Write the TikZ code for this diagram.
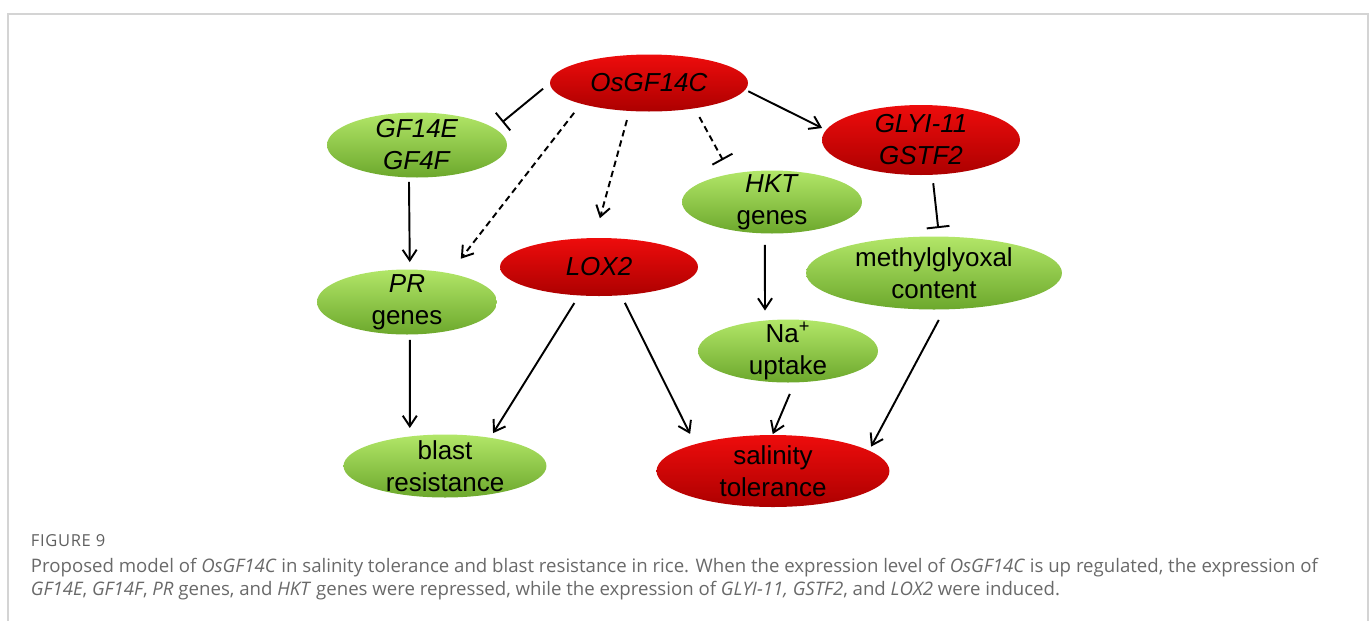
\documentclass[tikz,border=0pt]{standalone}
\usepackage{fontspec}
\setmainfont{Liberation Sans}
\newfontfamily\capfont{Open Sans}
\newfontfamily\figfont[LetterSpace=4]{Open Sans}
\usepackage{xcolor}
\usepackage{tikz}
\usetikzlibrary{shapes.geometric,arrows.meta,positioning}

\definecolor{redTop}{RGB}{238,12,12}
\definecolor{redBot}{RGB}{172,0,0}
\definecolor{greenTop}{RGB}{178,230,104}
\definecolor{greenBot}{RGB}{108,168,44}
\definecolor{capgray}{RGB}{105,105,105}
\definecolor{framegray}{RGB}{212,212,212}

\newcommand{\nodefont}{\fontsize{14.8}{18.2}\selectfont}

\begin{document}
\begin{tikzpicture}[x=0.02cm, y=-0.02cm,
    oval/.style={ellipse, inner xsep=-10pt, inner ysep=-9pt, outer sep=0pt, align=center, font=\nodefont},
    redoval/.style={oval, top color=redTop, bottom color=redBot},
    greenoval/.style={oval, top color=greenTop, bottom color=greenBot},
    >={Straight Barb[length=6pt,width=8pt]},
    every path/.style={line width=1.1pt},
    inhib/.style={-{Bar[width=13pt]}},
    dashedarrow/.style={->, dash pattern=on 3.6pt off 2.4pt},
    dashedinhib/.style={inhib, dash pattern=on 3.6pt off 2.4pt}]
    \useasboundingbox (0,0) rectangle (1372,620);
    \draw[framegray, line width=0.9pt] (8,640) -- (8,14) -- (1368,14) -- (1368,640);

    % genes and traits
    \node[redoval, minimum width=3.96cm, minimum height=1.14cm] (osgf) at (649,83) {\textit{OsGF14C}};
    \node[greenoval, minimum width=3.6cm, minimum height=1.3cm] (gf) at (417,145) {\textit{GF14E}\\\textit{GF4F}};
    \node[redoval, minimum width=3.96cm, minimum height=1.4cm] (glyi) at (921,140) {\textit{GLYI-11}\\\textit{GSTF2}};
    \node[greenoval, minimum width=3.6cm, minimum height=1.26cm] (hkt) at (772,202) {\textit{HKT}\\genes};
    \node[greenoval, minimum width=5.12cm, minimum height=1.46cm] (mg) at (934,273) {methylglyoxal\\content};
    \node[redoval, minimum width=3.96cm, minimum height=1.16cm] (lox) at (599,267) {\textit{LOX2}};
    \node[greenoval, minimum width=3.6cm, minimum height=1.3cm] (pr) at (407,302) {\textit{PR}\\genes};
    \node[greenoval, minimum width=3.6cm, minimum height=1.26cm] (na) at (788,351) {Na\textsuperscript{+}\\uptake};
    \node[greenoval, minimum width=4.06cm, minimum height=1.26cm] (blast) at (445,466) {blast\\resistance};
    \node[redoval, minimum width=4.66cm, minimum height=1.44cm] (sal) at (773,471) {salinity\\tolerance};

    % regulation
    \draw[inhib, shorten <=0.18cm, shorten >=0.2cm] (osgf.180) -- (gf.12);
    \draw[dashedarrow, shorten <=0.23cm, shorten >=0.37cm] (osgf.197) -- (pr.34);
    \draw[dashedarrow, shorten <=0.19cm, shorten >=0.41cm] (osgf.235) -- (lox.99);
    \draw[dashedinhib, shorten <=0.2cm, shorten >=0.32cm] (osgf.331) -- (hkt.146);
    \draw[->, shorten <=0.07cm, shorten >=0.09cm] (osgf.356) -- (glyi.174);
    \draw[inhib, shorten <=0.17cm, shorten >=0.17cm] (glyi.288) -- (mg.82);
    \draw[->, shorten <=0.23cm, shorten >=0.2cm] (hkt.257) -- (na.127);
    \draw[->, shorten <=0.09cm, shorten >=0.15cm] (gf.256) -- (pr.85);
    \draw[->, shorten <=0.11cm, shorten >=0.17cm] (pr.275) -- (blast.140);
    \draw[->, shorten <=0.18cm, shorten >=0.11cm] (lox.235) -- (blast.32);
    \draw[->, shorten <=0.17cm, shorten >=0.23cm] (lox.308) -- (sal.161);
    \draw[->, shorten <=0.25cm, shorten >=0.02cm] (na.282) -- (sal.91);
    \draw[->, shorten <=0.24cm, shorten >=0.09cm] (mg.286) -- (sal.12);

    % caption
    \node[anchor=base west, inner sep=0pt, text=capgray!90!black, font=\figfont\fontsize{9.4}{11}\selectfont] (fig) at (30,546) {FIGURE 9};
    \node[anchor=base west, inner sep=0pt, text=capgray, align=left, font=\capfont\fontsize{10.6}{13}\selectfont] (cap) at (30,595)
        {Proposed model of \textit{OsGF14C} in salinity tolerance and blast resistance in rice. When the expression level of \textit{OsGF14C} is up regulated, the expression of\\
         \textit{GF14E}, \textit{GF14F}, \textit{PR} genes, and \textit{HKT} genes were repressed, while the expression of \textit{GLYI-11, GSTF2}, and \textit{LOX2} were induced.};
\end{tikzpicture}
\end{document}
